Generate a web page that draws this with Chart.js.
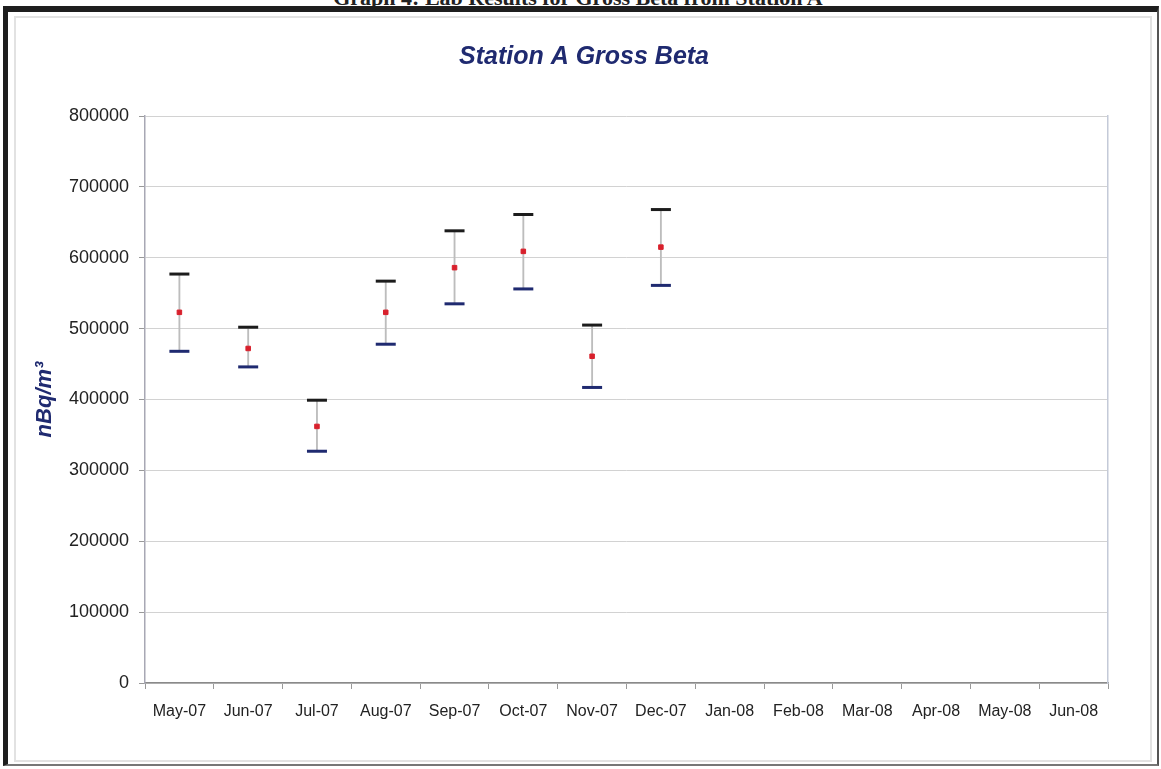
<!DOCTYPE html>
<html lang="en">
<head>
    <meta charset="UTF-8">
    <title>Station A Gross Beta</title>
    <script src="https://cdn.jsdelivr.net/npm/chart.js"></script>
    <style>
        body {
            margin: 0;
            background-color: #fff;
            width: 1161px;
            height: 769px;
            overflow: hidden;
            position: relative;
            font-family: Arial, "Liberation Sans", sans-serif;
        }
        .caption {
            position: absolute;
            top: -13px;
            left: 0;
            width: 1156px;
            text-align: center;
            font-family: "Liberation Serif", "Times New Roman", serif;
            font-weight: bold;
            font-size: 22px;
            line-height: 1;
            color: #222;
        }
        .frame {
            position: absolute;
            left: 3px;
            top: 6px;
            width: 1149px;
            height: 752px;
            border-top: 6px solid #1e1e1e;
            border-left: 5px solid #1e1e1e;
            border-right: 2px solid #555;
            border-bottom: 2px solid #777;
        }
        .inner {
            position: absolute;
            left: 14px;
            top: 16px;
            width: 1134px;
            height: 742px;
            border: 2px solid #e2e2e2;
        }
        #chart {
            position: absolute;
            left: 0;
            top: 0;
        }
    </style>
</head>
<body>
    <div class="caption">Graph 4: Lab Results for Gross Beta from Station A</div>
    <div class="frame"></div>
    <div class="inner"></div>
    <canvas id="chart" width="1161" height="769"></canvas>

    <script>
        // Monthly results, nBq/m3 (upper limit, measured value, lower limit)
        const months = ['May-07', 'Jun-07', 'Jul-07', 'Aug-07', 'Sep-07', 'Oct-07', 'Nov-07',
                        'Dec-07', 'Jan-08', 'Feb-08', 'Mar-08', 'Apr-08', 'May-08', 'Jun-08'];
        const highs = [577000, 502000, 399000, 567000, 638000, 661000, 505000, 668000,
                       null, null, null, null, null, null];
        const means = [523000, 472000, 362000, 523000, 586000, 609000, 461000, 615000,
                       null, null, null, null, null, null];
        const lows  = [468000, 446000, 327000, 478000, 535000, 556000, 417000, 561000,
                       null, null, null, null, null, null];
        const yTicks = [0, 100000, 200000, 300000, 400000, 500000, 600000, 700000, 800000];

        const navy = '#1f2a70';
        const font = 'Arial, "Liberation Sans", sans-serif';

        // gray whisker from low to high, as floating bars
        const ranges = lows.map((lo, i) => (lo === null ? null : [lo, highs[i]]));

        const ctx = document.getElementById('chart').getContext('2d');
        new Chart(ctx, {
            data: {
                labels: months,
                datasets: [
                    {
                        type: 'line',
                        label: 'Result',
                        data: means,
                        showLine: false,
                        pointStyle: 'rect',
                        pointRadius: 3.2,
                        pointBorderWidth: 1,
                        pointBackgroundColor: '#d8202c',
                        pointBorderColor: '#d8202c',
                        order: 0
                    },
                    {
                        type: 'line',
                        label: 'Upper',
                        data: highs,
                        showLine: false,
                        pointStyle: 'line',
                        pointRadius: 10,
                        pointBorderWidth: 3,
                        pointBorderColor: '#1c1c1c',
                        order: 1
                    },
                    {
                        type: 'line',
                        label: 'Lower',
                        data: lows,
                        showLine: false,
                        pointStyle: 'line',
                        pointRadius: 10,
                        pointBorderWidth: 3,
                        pointBorderColor: navy,
                        order: 1
                    },
                    {
                        type: 'bar',
                        label: 'Range',
                        data: ranges,
                        backgroundColor: '#bdbdbd',
                        barThickness: 1.2,
                        borderWidth: 0,
                        order: 3
                    }
                ]
            },
            options: {
                responsive: false,
                animation: false,
                layout: {
                    padding: { left: 60, right: 53, top: 20, bottom: 20 }
                },
                scales: {
                    x: {
                        offset: true,
                        grid: {
                            offset: true,
                            drawOnChartArea: false,
                            drawTicks: true,
                            tickLength: 6,
                            color: '#999'
                        },
                        border: { color: '#8a8a8a', width: 1.5 },
                        ticks: {
                            color: '#222',
                            font: { family: font, size: 16 },
                            padding: 13,
                            maxRotation: 0,
                            autoSkip: false
                        },
                        afterFit: (scale) => { scale.height = 66; }
                    },
                    y: {
                        min: 0,
                        max: 800000,
                        afterBuildTicks: (scale) => { scale.ticks = yTicks.map(v => ({ value: v })); },
                        grid: {
                            color: '#d2d2d2',
                            tickLength: 6,
                            tickColor: '#999'
                        },
                        border: { color: '#a8a8b4', width: 1.5 },
                        ticks: {
                            color: '#222',
                            font: { family: font, size: 18 },
                            padding: 10,
                            callback: (v) => String(v)
                        },
                        title: {
                            display: true,
                            text: 'nBq/m³',
                            color: navy,
                            font: { family: font, size: 22, style: 'italic', weight: 'bold' },
                            padding: { top: -28, bottom: 0 }
                        },
                        afterFit: (scale) => { scale.width = 85; }
                    },
                    yRight: {
                        position: 'right',
                        min: 0,
                        max: 800000,
                        grid: { drawOnChartArea: false, drawTicks: false },
                        border: { color: '#c4cad8', width: 1.5 },
                        ticks: { display: false },
                        afterFit: (scale) => { scale.width = 0; }
                    }
                },
                plugins: {
                    legend: { display: false },
                    tooltip: { enabled: false },
                    title: {
                        display: true,
                        text: 'Station A Gross Beta',
                        color: navy,
                        font: { family: font, size: 25, style: 'italic', weight: 'bold' },
                        padding: { top: 22, bottom: 44 }
                    }
                }
            }
        });
    </script>
</body>
</html>
